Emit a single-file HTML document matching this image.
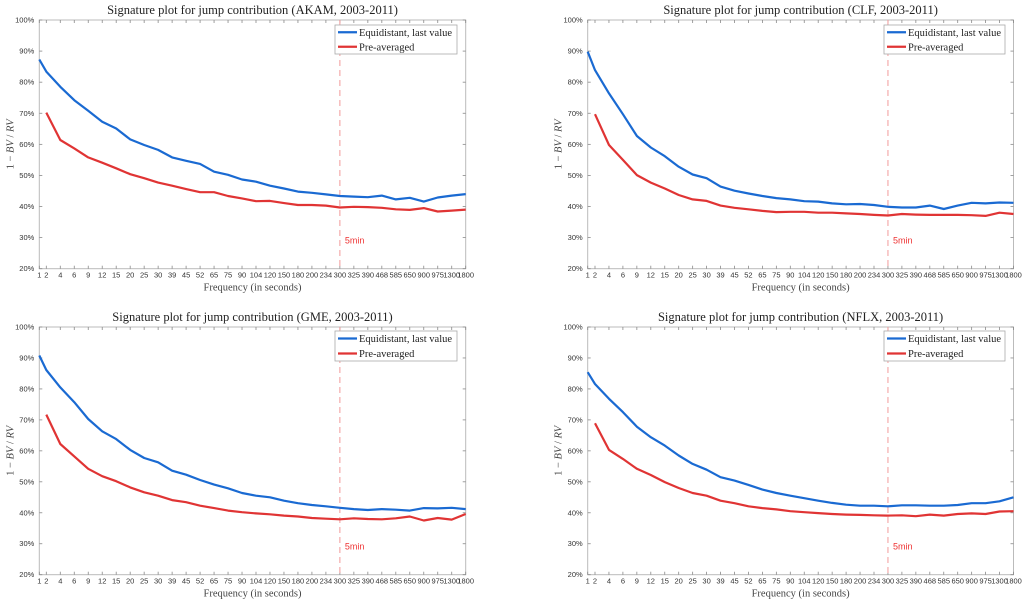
<!DOCTYPE html>
<html><head><meta charset="utf-8">
<style>
html,body{margin:0;padding:0;background:#fff;}
svg{display:block;}
.ttl{font-family:"Liberation Serif",serif;font-size:12.5px;fill:#222;}
.tk{font-family:"Liberation Sans",sans-serif;font-size:7.5px;fill:#333;}
.xl{font-family:"Liberation Serif",serif;font-size:10.5px;fill:#444;}
.lg{font-family:"Liberation Serif",serif;font-size:10.5px;fill:#222;}
</style></head>
<body>
<svg id="root" width="1024" height="604" viewBox="0 0 1024 604" xmlns="http://www.w3.org/2000/svg"></svg>
<script>
const freqLabels=["1","2","4","6","9","12","15","20","25","30","39","45","52","65","75","90","104","120","150","180","200","234","300","325","390","468","585","650","900","975","1300","1800"];
const yTicks=[20,30,40,50,60,70,80,90,100];
const tickers=["AKAM","CLF","GME","NFLX"];
const akamBlue=[87.3,83.4,78.5,74.2,70.8,67.3,65.1,61.6,59.8,58.2,55.8,54.7,53.7,51.2,50.2,48.7,48,46.7,45.8,44.8,44.4,43.9,43.4,43.2,43,43.5,42.3,42.8,41.6,42.9,43.5,44];
const akamRed=[null,70.2,61.4,58.7,55.8,54.1,52.3,50.4,49.1,47.7,46.7,45.6,44.6,44.6,43.4,42.6,41.7,41.8,41.1,40.5,40.5,40.3,39.7,39.9,39.8,39.6,39.1,38.9,39.5,38.4,38.7,39];
const clfBlue=[89.8,83.9,76.4,69.7,62.7,59,56.2,52.8,50.3,49.1,46.4,45.1,44.2,43.4,42.7,42.3,41.7,41.6,41,40.7,40.8,40.5,39.9,39.7,39.7,40.3,39.2,40.3,41.2,41,41.3,41.2];
const clfRed=[null,69.7,59.8,55,50.1,47.7,45.8,43.7,42.3,41.8,40.3,39.6,39.1,38.6,38.2,38.3,38.3,38,38,37.8,37.6,37.3,37.1,37.6,37.4,37.3,37.3,37.3,37.2,37,38,37.6];
const gmeBlue=[90.8,86.1,80.5,75.7,70.3,66.3,63.8,60.3,57.7,56.3,53.6,52.3,50.6,49.1,47.9,46.4,45.5,45,43.9,43.1,42.5,42.1,41.6,41.2,40.9,41.2,41,40.7,41.5,41.4,41.6,41.2];
const gmeRed=[null,71.7,62.2,58.2,54.2,51.8,50.2,48.2,46.6,45.5,44.1,43.4,42.3,41.5,40.7,40.2,39.8,39.5,39.1,38.8,38.3,38.1,37.9,38.2,38,37.9,38.2,38.8,37.5,38.3,37.8,39.6];
const nflxBlue=[85.4,81.6,76.8,72.5,67.8,64.4,61.7,58.5,55.8,53.9,51.5,50.4,49,47.5,46.4,45.5,44.7,43.9,43.2,42.6,42.3,42.3,42.1,42.4,42.4,42.3,42.3,42.5,43.1,43.1,43.7,45];
const nflxRed=[null,68.9,60.3,57.4,54.2,52.2,49.9,48,46.4,45.5,43.9,43.1,42.1,41.5,41.1,40.5,40.2,39.9,39.6,39.4,39.3,39.2,39.1,39.2,38.9,39.4,39.1,39.6,39.8,39.6,40.4,40.5];
const blueSeries=[akamBlue,clfBlue,gmeBlue,nflxBlue];
const redSeries=[akamRed,clfRed,gmeRed,nflxRed];
const markerIndex=22;

const NS="http://www.w3.org/2000/svg";
const root=document.getElementById('root');
function mk(tag,attrs,parent){const e=document.createElementNS(NS,tag);for(const k in attrs)e.setAttribute(k,attrs[k]);(parent||root).appendChild(e);return e;}

const panels=[
 {x1:39.3,x2:46.3,xe:465.7,yTop:20,yBot:268.7,lgL:335,lgR:457,lgT:25,lgB:54},
 {x1:587.7,x2:595,xe:1013.5,yTop:20,yBot:268.7,lgL:884,lgR:1005,lgT:25,lgB:54},
 {x1:39.3,x2:46.3,xe:465.7,yTop:327,yBot:574.7,lgL:335,lgR:457,lgT:331,lgB:361},
 {x1:587.7,x2:595,xe:1013.5,yTop:327,yBot:574.7,lgL:884,lgR:1005,lgT:331,lgB:361}
];

panels.forEach((p,pi)=>{
  const g=mk('g',{});
  
  
  const step=(p.xe-p.x2)/30;
  const xs=i=> i===0?p.x1:p.x2+(i-1)*step;
  const ys=v=> p.yBot-(v-20)/80*(p.yBot-p.yTop);
  // frame
  const fr=mk('rect',{x:p.x1,y:p.yTop,width:p.xe-p.x1,height:p.yBot-p.yTop,fill:'none',stroke:'#bbb','stroke-width':1},g);
  
  
  // title
  const t=mk('text',{x:(p.x1+p.xe)/2,y:p.yTop-6,'text-anchor':'middle',class:'ttl'},g);
  t.textContent='Signature plot for jump contribution ('+tickers[pi]+', 2003-2011)';
  
  
  // x ticks
  freqLabels.forEach((lab,i)=>{
    const x=xs(i);
    mk('line',{x1:x,x2:x,y1:p.yBot,y2:p.yBot-3,stroke:'#888','stroke-width':0.8},g);
    mk('line',{x1:x,x2:x,y1:p.yTop,y2:p.yTop+3,stroke:'#888','stroke-width':0.8},g);
    const tx=mk('text',{x:x,y:p.yBot+9,'text-anchor':'middle',class:'tk'},g);
    tx.textContent=lab;
    
    
  });
  yTicks.forEach(v=>{
    const y=ys(v);
    mk('line',{x1:p.x1,x2:p.x1+3,y1:y,y2:y,stroke:'#888','stroke-width':0.8},g);
    mk('line',{x1:p.xe,x2:p.xe-3,y1:y,y2:y,stroke:'#888','stroke-width':0.8},g);
    const ty=mk('text',{x:p.x1-5,y:y+2.5,'text-anchor':'end',class:'tk'},g);
    ty.textContent=v+'%';
    
    
  });
  const xl=mk('text',{x:(p.x1+p.xe)/2,y:p.yBot+22,'text-anchor':'middle',class:'xl'},g);
  xl.textContent='Frequency (in seconds)';
  
  
  const yc=(p.yTop+p.yBot)/2;
  const yl=mk('text',{x:p.x1-26,y:yc,'text-anchor':'middle',class:'xl',transform:'rotate(-90 '+(p.x1-26)+' '+yc+')'},g);
  yl.innerHTML='1 − <tspan font-style="italic">BV</tspan> / <tspan font-style="italic">RV</tspan>';
  
  
  // marker
  const mx=xs(markerIndex);
  const ml=mk('line',{x1:mx,x2:mx,y1:p.yTop,y2:p.yBot,stroke:'#f29a9a','stroke-width':1,'stroke-dasharray':'6,4'},g);
  
  
  const mt=mk('text',{x:mx+5,y:ys(30)+6,class:'tk','font-size':'9',fill:'#e33'},g);
  mt.setAttribute('style','font-size:9px;fill:#e33');
  mt.textContent='5min';
  
  
  // series
  function line(arr,color,name){
    const pts=[];arr.forEach((v,i)=>{if(v!==null)pts.push(xs(i).toFixed(1)+','+ys(v).toFixed(1));});
    const pl=mk('polyline',{points:pts.join(' '),fill:'none',stroke:color,'stroke-width':2.2,'stroke-linejoin':'round'},g);
    
    
  }
  line(redSeries[pi],'#e03434','pre-averaged-line');
  line(blueSeries[pi],'#1a6ad2','equidistant-line');
  // legend
  const lg=mk('g',{},g);
  
  
  mk('rect',{x:p.lgL,y:p.lgT,width:p.lgR-p.lgL,height:p.lgB-p.lgT,fill:'#fff',stroke:'#aaa','stroke-width':0.8},lg);
  const e1=(p.lgB-p.lgT)/4;
  [['#1a6ad2','Equidistant, last value','legend-entry-equidistant'],['#e03434','Pre-averaged','legend-entry-pre-averaged']].forEach((d,k)=>{
    const yy=p.lgT+e1*(k*2+1);
    const eg=mk('g',{},lg);
    
    
    mk('line',{x1:p.lgL+3,x2:p.lgL+22,y1:yy,y2:yy,stroke:d[0],'stroke-width':2.2},eg);
    const lt=mk('text',{x:p.lgL+24,y:yy+3.5,class:'lg'},eg);
    lt.textContent=d[1];
  });
});
</script>
</body></html>
